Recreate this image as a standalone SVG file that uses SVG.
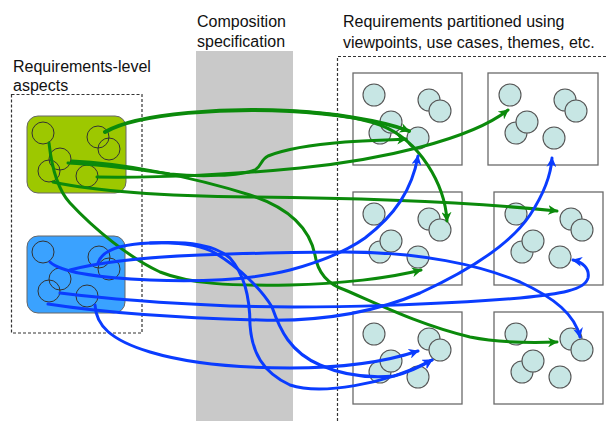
<svg xmlns="http://www.w3.org/2000/svg" xmlns:xlink="http://www.w3.org/1999/xlink" width="606" height="421" viewBox="0 0 606 421">
<style>
.t{font-family:"Liberation Sans",Arial,sans-serif;font-size:16px;fill:#111}
.dash{fill:none;stroke:#333;stroke-width:1.2;stroke-dasharray:3 2}
.box{fill:#fff;stroke:#6a6a6a;stroke-width:1.3}
.rc{fill:#c7e6e4;stroke:#555;stroke-width:1.1}
.oc{fill:none;stroke:#333;stroke-width:1}
.g{fill:none;stroke:#0b8a0b;stroke-width:3;stroke-linecap:round}
.b{fill:none;stroke:#0a3cff;stroke-width:3;stroke-linecap:round}
</style>
<defs>
<marker id="ag" viewBox="0 0 10 10" refX="9" refY="5" markerWidth="10" markerHeight="10" markerUnits="userSpaceOnUse" orient="auto"><path d="M0,0 L10,5 L0,10 L3,5 z" fill="#0b8a0b"/></marker>
<marker id="ab" viewBox="0 0 10 10" refX="9" refY="5" markerWidth="10" markerHeight="10" markerUnits="userSpaceOnUse" orient="auto"><path d="M0,0 L10,5 L0,10 L3,5 z" fill="#0a3cff"/></marker>
<g id="cl">
<circle class="rc" cx="21" cy="22" r="11"/>
<circle class="rc" cx="76" cy="27" r="11"/>
<circle class="rc" cx="87" cy="38" r="11"/>
<circle class="rc" cx="27" cy="60" r="11"/>
<circle class="rc" cx="38" cy="49" r="11"/>
<circle class="rc" cx="65" cy="65" r="11"/>
</g>
</defs>
<rect x="196" y="51" width="97" height="370" fill="#c9c9c9"/>
<rect class="dash" x="11.5" y="94.5" width="130.5" height="238.5"/>
<path class="dash" d="M337.5,421 V56.5 H606"/>
<text class="t" x="197" y="27">Composition</text>
<text class="t" x="197" y="47">specification</text>
<text class="t" x="343" y="27">Requirements partitioned using</text>
<text class="t" x="343" y="48">viewpoints, use cases, themes, etc.</text>
<text class="t" x="13" y="72">Requirements-level</text>
<text class="t" x="13" y="91">aspects</text>
<g id="green-aspect">
<rect x="27" y="116" width="99" height="77" rx="11" fill="#9dc800" stroke="#666" stroke-width="1"/>
<circle class="oc" cx="43" cy="133" r="11"/>
<circle class="oc" cx="98" cy="137" r="11"/>
<circle class="oc" cx="109" cy="149" r="11"/>
<circle class="oc" cx="60" cy="159" r="11"/>
<circle class="oc" cx="49" cy="171" r="11"/>
<circle class="oc" cx="87" cy="176" r="11"/>
</g>
<g id="blue-aspect">
<rect x="27" y="236" width="98" height="77" rx="11" fill="#3aa2ff" stroke="#666" stroke-width="1"/>
<circle class="oc" cx="43" cy="252" r="11"/>
<circle class="oc" cx="99" cy="257" r="11"/>
<circle class="oc" cx="109" cy="269" r="11"/>
<circle class="oc" cx="60" cy="279" r="11"/>
<circle class="oc" cx="49" cy="291" r="11"/>
<circle class="oc" cx="87" cy="296" r="11"/>
</g>
<g id="part1"><rect class="box" x="353" y="73" width="109" height="92"/><use xlink:href="#cl" href="#cl" x="353" y="73"/></g>
<g id="part2"><rect class="box" x="488" y="73" width="110" height="92"/><use xlink:href="#cl" href="#cl" x="489" y="73"/></g>
<g id="part3"><rect class="box" x="353" y="192" width="109" height="93"/><use xlink:href="#cl" href="#cl" x="353" y="192"/></g>
<g id="part4"><rect class="box" x="494" y="192" width="109" height="93"/><use xlink:href="#cl" href="#cl" x="495" y="192"/></g>
<g id="part5"><rect class="box" x="353" y="312" width="109" height="92"/><use xlink:href="#cl" href="#cl" x="353" y="312"/></g>
<g id="part6"><rect class="box" x="494" y="312" width="109" height="92"/><use xlink:href="#cl" href="#cl" x="495" y="312"/></g>
<g id="connectors">
<path class="g" style="stroke-width:4" d="M105,132 C140,112 230,108 290,111 C330,113 380,120 409,131" marker-end="url(#ag)"/>
<path class="g" d="M290,111 C330,113 360,118 380,125 C420,140 445,185 447,221" marker-end="url(#ag)"/>
<path class="g" d="M68,163 C110,165 140,170 170,174 C200,177 240,176 255,170 C262,166 260,160 268,156 C290,147 320,144 345,142 C370,140 390,140 406,139" marker-end="url(#ag)"/>
<path class="g" d="M97,177 C160,178 240,174 300,168 C380,160 470,140 508,110" marker-end="url(#ag)"/>
<path class="g" d="M53,182 C90,190 150,196 250,197 C350,198 470,202 557,211" marker-end="url(#ag)"/>
<path class="g" d="M72,161 C120,163 190,176 250,195 C290,208 310,230 315,255 C318,275 330,285 345,290 C380,305 420,325 470,337 C500,343 530,343 557,342" marker-end="url(#ag)"/>
<path class="g" d="M49,143 C52,170 58,190 70,203 C95,230 130,258 160,272 C190,284 230,286 290,285 C340,284 390,278 421,270" marker-end="url(#ag)"/>
<path class="b" d="M98,263 C102,250 120,244 150,243 C190,241 215,245 230,258 C245,275 250,300 250,325 C252,352 262,372 290,385 C320,395 385,385 432,360" marker-end="url(#ab)"/>
<path class="b" d="M150,243 C175,242 200,244 215,253 C240,268 262,290 272,307 C280,330 290,352 320,365 C345,376 372,378 394,376 C410,372 422,366 432,360" marker-end="url(#ab)"/>
<path class="b" d="M95,305 C96,325 110,340 150,352 C190,364 240,368 290,368 C340,368 385,362 418,351" marker-end="url(#ab)"/>
<path class="b" d="M70,270 C100,262 150,257 200,255 C260,253 300,252 345,252 C420,252 480,265 520,282 C555,298 575,315 580,337" marker-end="url(#ab)"/>
<path class="b" d="M50,262 C60,272 100,278 150,280 C200,282 250,280 290,270 C320,262 345,252 365,238 C395,215 412,190 418,156" marker-end="url(#ab)"/>
<path class="b" d="M60,293 C100,298 160,303 230,306 C330,309 450,304 520,298 C560,294 585,290 588,278 C590,268 582,262 573,260" marker-end="url(#ab)"/>
<path class="b" d="M48,304 C100,312 180,318 260,320 C330,322 380,310 420,293 C470,270 510,245 530,215 C545,192 551,175 552,158" marker-end="url(#ab)"/>
</g>
</svg>
